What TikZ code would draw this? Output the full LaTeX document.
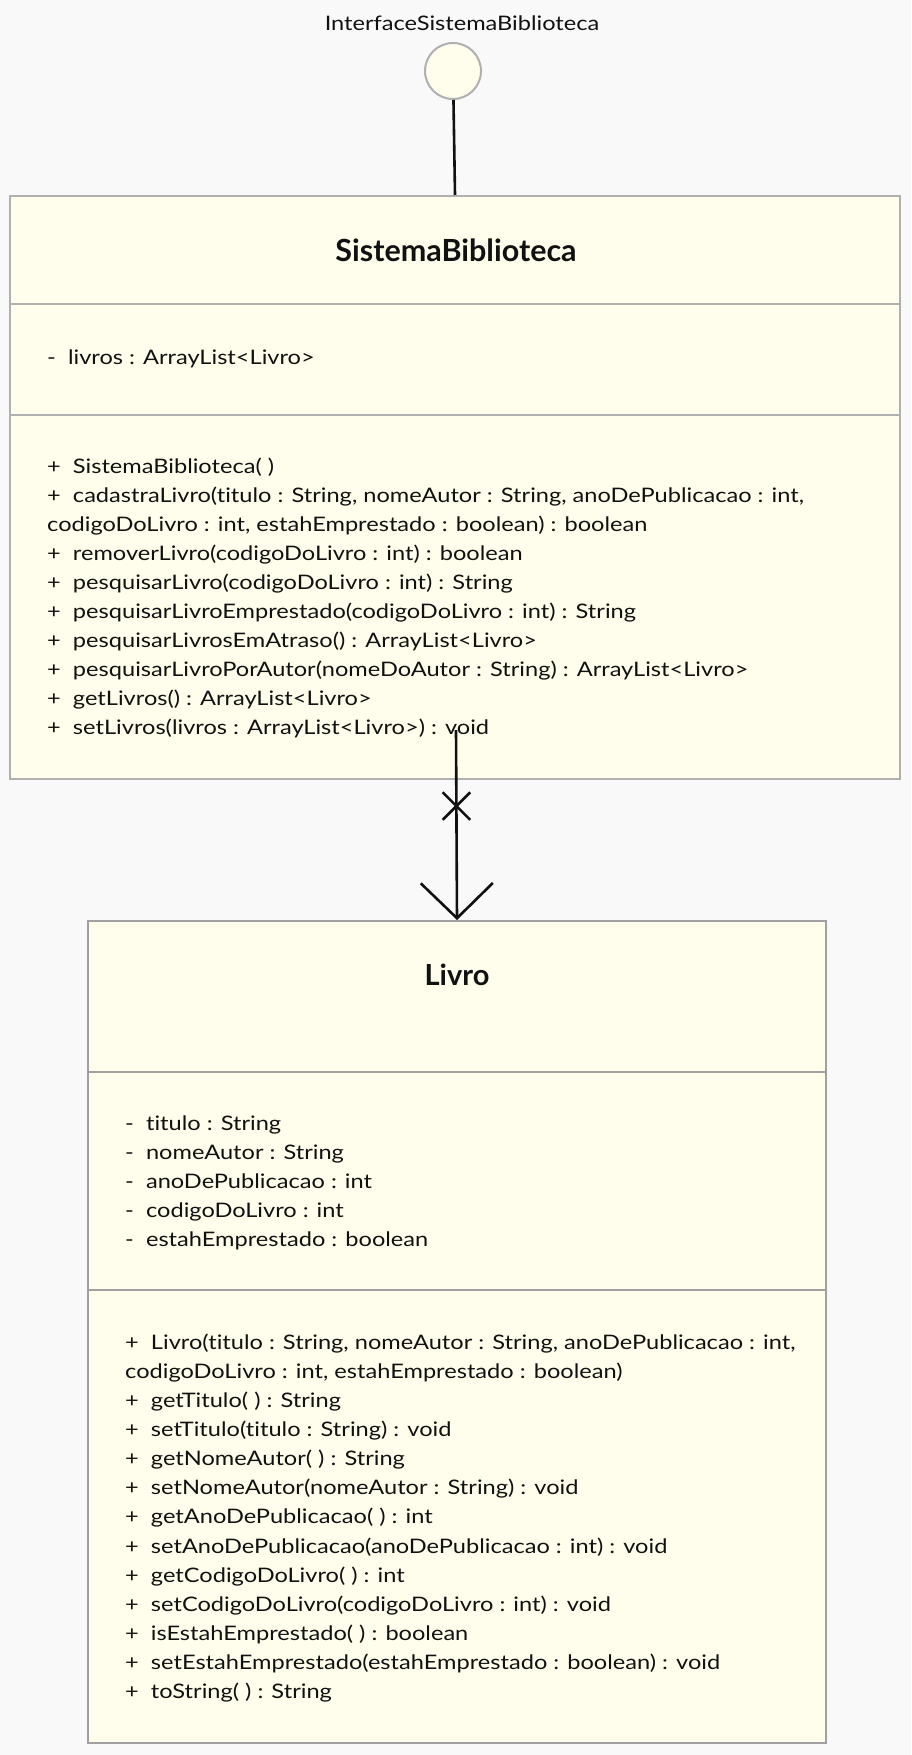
\documentclass[tikz,border=0pt]{standalone}
\usepackage{fontspec}
\setmainfont{Lato}[FakeStretch=1.18,Ligatures=NoCommon]
\newfontfamily\titlefont{Lato}[Ligatures=NoCommon]
\usetikzlibrary{arrows.meta,shapes.misc}
\definecolor{bgcol}{HTML}{F9F9F9}
\definecolor{boxfill}{HTML}{FFFEEC}
\definecolor{boxgray}{HTML}{B0B0B0}
\definecolor{boxgraydark}{HTML}{A0A0A0}
\definecolor{ink}{HTML}{111111}
\tikzset{
	classbox/.style={rectangle,draw=boxgray,fill=boxfill,line width=2pt,inner sep=0pt},
	sepline/.style={draw=boxgray,line width=2pt},
	member/.style={anchor=base west,inner sep=0pt,text=ink,font=\fontsize{20}{24}\selectfont},
	classtitle/.style={inner sep=0pt,text=ink,font=\titlefont\fontsize{29}{34}\selectfont\bfseries},
	assoc/.style={line width=2.6pt,-{Straight Barb[length=35pt,width=72pt]}},
	crossmark/.style={cross out,draw,line width=2.6pt,minimum size=25pt,inner sep=0pt}
}
\begin{document}
\begin{tikzpicture}[x=1pt,y=-1pt]
		\fill[bgcol] (0,0) rectangle (911,1755);
		\useasboundingbox (0,0) rectangle (911,1755);
		% interface
		\node[inner sep=0pt,text=ink,font=\fontsize{20}{24}\selectfont] (ifacelabel) at (462,23) {InterfaceSistemaBiblioteca};
		\node[circle,draw=boxgray,fill=boxfill,line width=2pt,minimum size=56pt,inner sep=0pt] (iface) at (453,71) {};
		% SistemaBiblioteca
		\node[classbox,minimum width=890pt,minimum height=583pt] (sis) at (455,487.5) {};
		\draw[sepline] (10,304) -- (900,304);
		\draw[sepline] (10,415) -- (900,415);
		\node[classtitle,font=\titlefont\fontsize{30.5}{36}\selectfont\bfseries] (sistitle) at (456,250) {SistemaBiblioteca};
		\node[member] (sisattr) at (47,364) {-\ \ livros : ArrayList<Livro>};
		\foreach \txt [count=\i from 0] in {%
			{+\ \ SistemaBiblioteca( )},
			{+\ \ cadastraLivro(titulo : String, nomeAutor : String, anoDePublicacao : int,},
			{codigoDoLivro : int, estahEmprestado : boolean) : boolean},
			{+\ \ removerLivro(codigoDoLivro : int) : boolean},
			{+\ \ pesquisarLivro(codigoDoLivro : int) : String},
			{+\ \ pesquisarLivroEmprestado(codigoDoLivro : int) : String},
			{+\ \ pesquisarLivrosEmAtraso() : ArrayList<Livro>},
			{+\ \ pesquisarLivroPorAutor(nomeDoAutor : String) : ArrayList<Livro>},
			{+\ \ getLivros() : ArrayList<Livro>},
			{+\ \ setLivros(livros : ArrayList<Livro>) : void}}
		{
			\node[member] (sisop\i) at (47,473+29.1*\i) {\txt};
		}
		% Livro
		\node[classbox,draw=boxgraydark,minimum width=738pt,minimum height=822pt] (livro) at (457,1332) {};
		\draw[sepline,draw=boxgraydark] (88,1072) -- (826,1072);
		\draw[sepline,draw=boxgraydark] (88,1290) -- (826,1290);
		\node[classtitle] (livrotitle) at (457,975) {Livro};
		\foreach \txt [count=\i from 0] in {%
			{-\ \ titulo : String},
			{-\ \ nomeAutor : String},
			{-\ \ anoDePublicacao : int},
			{-\ \ codigoDoLivro : int},
			{-\ \ estahEmprestado : boolean}}
		{
			\node[member] (livroattr\i) at (125,1130+29.1*\i) {\txt};
		}
		\foreach \txt [count=\i from 0] in {%
			{+\ \ Livro(titulo : String, nomeAutor : String, anoDePublicacao : int,},
			{codigoDoLivro : int, estahEmprestado : boolean)},
			{+\ \ getTitulo( ) : String},
			{+\ \ setTitulo(titulo : String) : void},
			{+\ \ getNomeAutor( ) : String},
			{+\ \ setNomeAutor(nomeAutor : String) : void},
			{+\ \ getAnoDePublicacao( ) : int},
			{+\ \ setAnoDePublicacao(anoDePublicacao : int) : void},
			{+\ \ getCodigoDoLivro( ) : int},
			{+\ \ setCodigoDoLivro(codigoDoLivro : int) : void},
			{+\ \ isEstahEmprestado( ) : boolean},
			{+\ \ setEstahEmprestado(estahEmprestado : boolean) : void},
			{+\ \ toString( ) : String}}
		{
			\node[member] (livroop\i) at (125,1349+29.15*\i) {\txt};
		}
		% connectors
		\draw[line width=2.6pt,draw=ink] (iface) -- (sis.north);
		\coordinate (assocsrc) at (456,730);
		\draw[assoc,draw=ink] (assocsrc) -- node[crossmark,pos=0.4] (assocx) {} (livro.north);
\end{tikzpicture}
\end{document}
